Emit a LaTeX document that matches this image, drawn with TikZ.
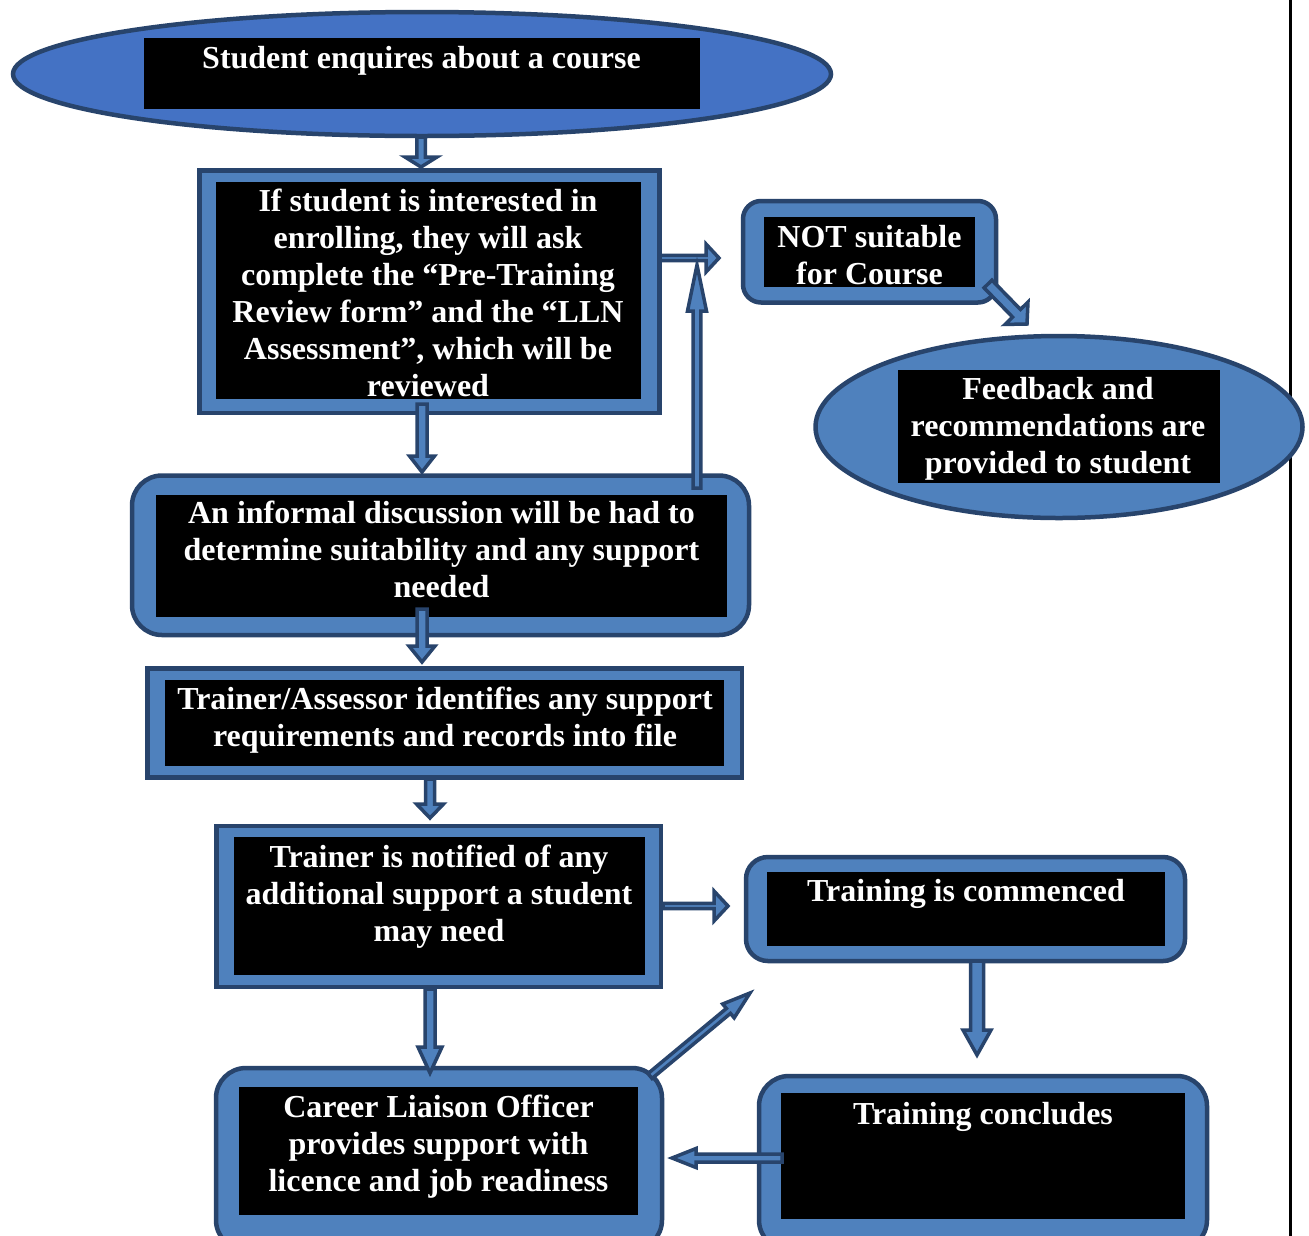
\documentclass[tikz,border=0pt]{standalone}
\usepackage{fontspec}
\setmainfont{Liberation Serif}
\usetikzlibrary{calc,shapes.geometric}
\definecolor{dk}{RGB}{40,68,108}
\definecolor{bl}{RGB}{79,129,189}
\definecolor{bltop}{RGB}{68,114,196}
\tikzset{
  shapebox/.style={draw=dk, line width=4.5pt, fill=bl, rectangle, inner sep=0pt},
  shapeell/.style={draw=dk, line width=4.5pt, ellipse, inner sep=0pt},
  innerbox/.style={fill=black, draw=none, rectangle, inner sep=0pt},
  lbl/.style={text=white, font=\bfseries\fontsize{32}{37}\selectfont, align=center, inner sep=0pt, anchor=base},
  arrowline/.style={draw=dk, fill=bl, line width=3.5pt, line join=miter},
}
% #1 start, #2 end, #3 half shaft, #4 half head, #5 head length
\newcommand\blockarrow[5]{%
  \path[arrowline] let \p1=(#1), \p2=(#2), \n1={atan2(\y2-\y1,\x2-\x1)},
      \n2={veclen(\x2-\x1,\y2-\y1)-#5} in
    ($(\p1)+(\n1+90:#3)$) -- ($(\p1)+(\n1:\n2)+(\n1+90:#3)$)
    -- ($(\p1)+(\n1:\n2)+(\n1+90:#4)$) -- (\p2)
    -- ($(\p1)+(\n1:\n2)+(\n1-90:#4)$) -- ($(\p1)+(\n1:\n2)+(\n1-90:#3)$)
    -- ($(\p1)+(\n1-90:#3)$) -- cycle;
}
\begin{document}
\begin{tikzpicture}[x=1pt,y=-1pt]
\useasboundingbox (0,0) rectangle (1309,1235);
\clip (0,0) rectangle (1309,1235);
\fill[white] (0,0) rectangle (1309,1235);
% right margin line
\draw[line width=3pt, black] (1290.7,-5) -- (1290.7,1240);

% shapes (text nodes anchored at the baseline of their last line)
\node[shapeell, fill=bltop, minimum width=818pt, minimum height=124pt] (e1) at (422,74) {};
\node[innerbox, minimum width=556pt, minimum height=71pt] (e1i) at (422,73.5) {};
\node[lbl] (e1t) at (421.5,68) {Student enquires about a course};

\node[shapebox, minimum width=460pt, minimum height=242.5pt] (b2) at (429.5,291.75) {};
\node[innerbox, minimum width=425pt, minimum height=217pt] (b2i) at (428.5,290.5) {};
\node[lbl] (b2t) at (428,396) {If student is interested in\\enrolling, they will ask\\complete the “Pre-Training\\Review form” and the “LLN\\Assessment”, which will be\\reviewed};

\node[shapebox, rounded corners=18pt, minimum width=253pt, minimum height=101.5pt] (ns) at (869.5,251.75) {};
\node[innerbox, minimum width=211pt, minimum height=70pt] (nsi) at (869.5,252) {};
\node[lbl] (nst) at (869.5,284) {NOT suitable\\for Course};

\node[shapeell, fill=bl, minimum width=487pt, minimum height=182pt] (e2) at (1059,427) {};
\node[innerbox, minimum width=322pt, minimum height=113pt] (e2i) at (1059,426.5) {};
\node[lbl] (e2t) at (1058,473) {Feedback and\\recommendations are\\provided to student};

\node[shapebox, rounded corners=30pt, minimum width=617pt, minimum height=159.5pt] (b3) at (440.5,555.25) {};
\node[innerbox, minimum width=571pt, minimum height=122pt] (b3i) at (441.5,556) {};
\node[lbl] (b3t) at (441.5,597) {An informal discussion will be had to\\determine suitability and any support\\needed};

\node[shapebox, minimum width=594.5pt, minimum height=109pt] (b4) at (444.75,723) {};
\node[innerbox, minimum width=559pt, minimum height=86pt] (b4i) at (444.5,723) {};
\node[lbl] (b4t) at (445,746) {Trainer/Assessor identifies any support\\requirements and records into file};

\node[shapebox, minimum width=444.5pt, minimum height=161pt] (b5) at (438.75,906.5) {};
\node[innerbox, minimum width=411pt, minimum height=138pt] (b5i) at (439.5,906) {};
\node[lbl] (b5t) at (439,941) {Trainer is notified of any\\additional support a student\\may need};

\node[shapebox, rounded corners=22pt, minimum width=439pt, minimum height=104pt] (b6) at (965.5,909) {};
\node[innerbox, minimum width=398pt, minimum height=74pt] (b6i) at (966,909) {};
\node[lbl] (b6t) at (966,901) {Training is commenced};

\node[shapebox, rounded corners=30pt, minimum width=446pt, minimum height=182pt] (b7) at (439,1159) {};
\node[innerbox, minimum width=399pt, minimum height=128pt] (b7i) at (438.5,1151) {};
\node[lbl] (b7t) at (438.5,1191) {Career Liaison Officer\\provides support with\\licence and job readiness};

\node[shapebox, rounded corners=30pt, minimum width=448pt, minimum height=174pt] (b8) at (983,1163) {};
\node[innerbox, minimum width=404pt, minimum height=126pt] (b8i) at (983,1156) {};
\node[lbl] (b8t) at (983,1124) {Training concludes};

% arrow end points
\coordinate (a1s) at (421,137);  \coordinate (a1e) at (421,167);
\coordinate (a2s) at (422,404);  \coordinate (a2e) at (422,472);
\coordinate (a3s) at (422,609);  \coordinate (a3e) at (422,662);
\coordinate (a4s) at (430,779);  \coordinate (a4e) at (430,818);
\coordinate (a5s) at (660,258);  \coordinate (a5e) at (719,258);
\coordinate (a6s) at (697,488);  \coordinate (a6e) at (697,265);
\coordinate (a7s) at (988,284);  \coordinate (a7e) at (1027,324);
\coordinate (a8s) at (663,906);  \coordinate (a8e) at (728,906);
\coordinate (a9s) at (430,989);  \coordinate (a9e) at (430,1073);
\coordinate (a10s) at (650,1076); \coordinate (a10e) at (750,993);
\coordinate (a11s) at (977,961); \coordinate (a11e) at (977,1055);
\coordinate (a12s) at (782,1158); \coordinate (a12e) at (672,1158);

\blockarrow{a1s}{a1e}{4.25pt}{16pt}{10pt}
\blockarrow{a2s}{a2e}{5pt}{12.5pt}{16pt}
\blockarrow{a3s}{a3e}{5pt}{13pt}{16pt}
\blockarrow{a4s}{a4e}{4.5pt}{13.5pt}{14pt}
\blockarrow{a5s}{a5e}{2.6pt}{14pt}{13pt}
\blockarrow{a6s}{a6e}{3.8pt}{9.5pt}{46pt}
\blockarrow{a7s}{a7e}{5.5pt}{16pt}{15pt}
\blockarrow{a8s}{a8e}{2.6pt}{15pt}{14pt}
\blockarrow{a9s}{a9e}{5pt}{12pt}{26pt}
\blockarrow{a10s}{a10e}{3.2pt}{9pt}{28pt}
\blockarrow{a11s}{a11e}{6.5pt}{14pt}{25pt}
\blockarrow{a12s}{a12e}{4pt}{9.5pt}{24pt}
\end{tikzpicture}
\end{document}
